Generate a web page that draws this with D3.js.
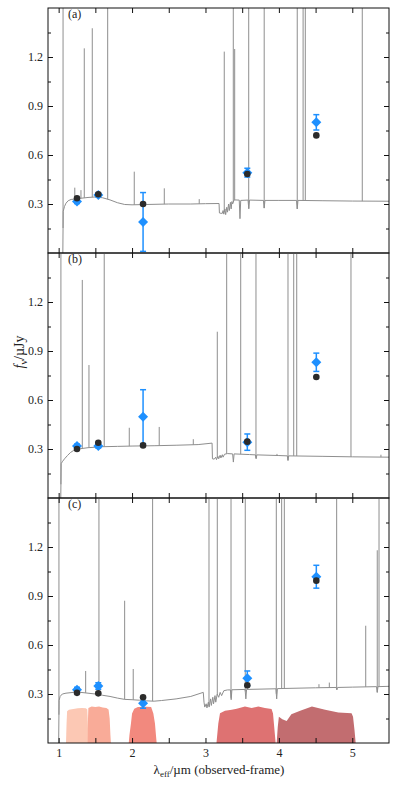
<!DOCTYPE html>
<html><head><meta charset="utf-8">
<script src="https://cdn.jsdelivr.net/npm/d3@7"></script>
<style>body{margin:0;background:#fff} text{font-family:"Liberation Serif","Times New Roman",serif;fill:#222}</style>
</head><body><svg id="c" width="398" height="790"></svg>
<script>
// ---------- data ----------
const panelNames = ["(a)", "(b)", "(c)"];
const bandWave = [1.25, 1.54, 2.15, 3.57, 4.51];

const modelA = [0.335, 0.36, 0.30, 0.484, 0.72];
const obsA   = [0.315, 0.355, 0.19, 0.492, 0.80];
const errA   = [0.012, 0.012, 0.18, 0.027, 0.047];
const modelB = [0.30, 0.338, 0.322, 0.345, 0.741];
const obsB   = [0.318, 0.318, 0.498, 0.342, 0.831];
const errB   = [0.012, 0.012, 0.165, 0.05, 0.056];
const modelC = [0.307, 0.304, 0.28, 0.353, 0.994];
const obsC   = [0.326, 0.349, 0.243, 0.396, 1.018];
const errC   = [0.015, 0.02, 0.03, 0.045, 0.07];

const contA = [[1.057,0.0],[1.062,0.255],[1.08,0.285],[1.10,0.305],[1.13,0.32],[1.17,0.328],[1.22,0.33],[1.3,0.335],[1.4,0.34],[1.5,0.343],[1.6,0.338],[1.7,0.325],[1.8,0.308],[1.9,0.297],[2.0,0.295],[2.2,0.297],[2.5,0.300],[2.8,0.300],[3.0,0.302],[3.185,0.303],[3.19,0.245],[3.21,0.243],[3.23,0.243],[3.24,0.26],[3.25,0.238],[3.265,0.27],[3.275,0.235],[3.29,0.28],[3.30,0.25],[3.315,0.30],[3.325,0.26],[3.34,0.31],[3.35,0.27],[3.36,0.315],[3.37,0.3],[3.39,0.325],[3.46,0.324],[3.47,0.21],[3.48,0.322],[3.58,0.324],[3.59,0.27],[3.60,0.324],[3.79,0.322],[3.80,0.275],[3.81,0.322],[4.0,0.322],[4.24,0.322],[4.25,0.27],[4.26,0.322],[4.6,0.32],[5.0,0.318],[5.5,0.317]];
const contB = [[1.029,0.0],[1.034,0.21],[1.05,0.222],[1.08,0.24],[1.12,0.26],[1.16,0.278],[1.2,0.29],[1.3,0.302],[1.4,0.308],[1.6,0.314],[1.8,0.316],[2.0,0.318],[2.3,0.32],[2.6,0.323],[2.9,0.327],[3.09,0.336],[3.095,0.24],[3.12,0.238],[3.14,0.25],[3.15,0.235],[3.17,0.255],[3.18,0.24],[3.2,0.262],[3.21,0.245],[3.23,0.265],[3.24,0.25],[3.26,0.268],[3.30,0.272],[3.37,0.27],[3.38,0.22],[3.39,0.27],[3.6,0.266],[3.68,0.264],[3.69,0.24],[3.70,0.264],[4.0,0.26],[4.115,0.258],[4.124,0.23],[4.133,0.258],[4.6,0.255],[5.0,0.252],[5.5,0.25]];
const contC = [[1.0,0.0],[1.006,0.26],[1.02,0.285],[1.05,0.30],[1.1,0.305],[1.2,0.31],[1.3,0.31],[1.4,0.305],[1.5,0.30],[1.6,0.292],[1.7,0.285],[1.8,0.275],[1.9,0.267],[2.0,0.265],[2.1,0.262],[2.2,0.258],[2.3,0.256],[2.4,0.26],[2.6,0.27],[2.8,0.285],[2.97,0.31],[2.98,0.25],[2.99,0.22],[3.01,0.24],[3.02,0.215],[3.04,0.25],[3.05,0.22],[3.07,0.27],[3.08,0.23],[3.10,0.28],[3.11,0.24],[3.13,0.29],[3.14,0.25],[3.16,0.30],[3.18,0.28],[3.2,0.31],[3.22,0.29],[3.25,0.32],[3.3,0.325],[3.34,0.325],[3.35,0.265],[3.36,0.326],[3.54,0.328],[3.55,0.27],[3.56,0.328],[3.96,0.332],[3.97,0.27],[3.98,0.333],[4.5,0.338],[4.78,0.34],[4.79,0.325],[4.80,0.34],[5.0,0.342],[5.33,0.345],[5.34,0.31],[5.35,0.345],[5.5,0.347]];

// emission lines: [wavelength, peak flux]
const linesA = [[1.06,2],[1.22,0.40],[1.304,0.385],[1.349,1.253],[1.458,1.376],[1.668,2],[2.03,0.498],[2.439,0.396],[2.915,0.33],[3.256,1.233],[3.379,2],[3.398,1.249],[3.589,2],[3.80,2],[4.25,2],[4.33,2],[4.36,2],[5.136,2]];
const linesB = [[1.031,2],[1.322,1.335],[1.413,0.814],[1.621,2],[1.962,0.43],[2.37,0.435],[2.834,0.36],[3.161,1.018],[3.289,2],[3.48,2],[3.688,2],[3.974,0.27],[4.124,2],[4.202,2],[4.243,2],[4.982,2],[5.39,0.265]];
const linesC = [[1.004,2],[1.368,0.441],[1.549,2],[1.899,0.871],[2.016,0.453],[2.28,2],[3.048,2],[3.161,2],[3.348,2],[3.542,2],[3.965,2],[4.038,2],[4.074,2],[4.546,0.36],[4.687,0.37],[4.787,2],[5.183,0.718],[5.34,1.18],[5.364,2]];

// filter transmission curves (panel c)
const filtJ  = [[1.10,0],[1.108,0.12],[1.115,0.195],[1.14,0.203],[1.2,0.208],[1.26,0.212],[1.32,0.214],[1.37,0.212],[1.39,0.205],[1.398,0.12],[1.405,0]];
const filtH  = [[1.395,0],[1.40,0.15],[1.405,0.215],[1.45,0.224],[1.5,0.22],[1.55,0.223],[1.6,0.218],[1.65,0.215],[1.68,0.205],[1.695,0.15],[1.705,0.05],[1.712,0]];
const filtK  = [[1.955,0],[1.965,0.05],[1.985,0.12],[2.0,0.18],[2.03,0.21],[2.08,0.22],[2.2,0.222],[2.26,0.22],[2.29,0.18],[2.312,0.12],[2.325,0.05],[2.335,0]];
const filtI1 = [[3.15,0],[3.175,0.12],[3.198,0.182],[3.266,0.198],[3.357,0.204],[3.425,0.21],[3.538,0.224],[3.629,0.214],[3.72,0.224],[3.81,0.214],[3.90,0.208],[3.92,0.18],[3.94,0.08],[3.956,0]];
const filtI2 = [[3.97,0],[3.985,0.1],[4.0,0.16],[4.047,0.145],[4.106,0.135],[4.17,0.176],[4.29,0.198],[4.45,0.224],[4.63,0.204],[4.81,0.186],[4.99,0.182],[5.01,0.16],[5.03,0.08],[5.046,0]];
const filterColors = ["#fcc8b4", "#f9ab98", "#f2897e", "#de7272", "#c26d70"];

const xDomain = [0.855, 5.5];
const yDomain = [0, 1.5];
const xTicks = [1, 1.5, 2, 2.5, 3, 3.5, 4, 4.5, 5];
const xTickLabels = ["1", "2", "3", "4", "5"];
const yMajor = [0.3, 0.6, 0.9, 1.2];
const yMinor = [0.15, 0.45, 0.75, 1.05, 1.35];

// ---------- drawing ----------
const svg = d3.select("#c");
const L = 48, R = 389, T0 = 8, PH = 245;
const x = d3.scaleLinear().domain(xDomain).range([L, R]);

const panels = [
  {cont: contA, lines: linesA, model: modelA, obs: obsA, err: errA},
  {cont: contB, lines: linesB, model: modelB, obs: obsB, err: errB},
  {cont: contC, lines: linesC, model: modelC, obs: obsC, err: errC, filters: [filtJ, filtH, filtK, filtI1, filtI2]}
];

const defs = svg.append("defs");
const bis = d3.bisector(d => d[0]).left;
function baseAt(cont, w) {
  const i = bis(cont, w);
  if (i <= 0) return cont[0][1];
  if (i >= cont.length) return cont[cont.length - 1][1];
  const a = cont[i - 1], b = cont[i];
  return a[1] + (b[1] - a[1]) * (w - a[0]) / (b[0] - a[0]);
}

panels.forEach((p, k) => {
  const top = T0 + k * PH, bot = top + PH;
  const y = d3.scaleLinear().domain(yDomain).range([bot, top]);
  const g = svg.append("g");
  defs.append("clipPath").attr("id", "clip" + k).append("rect")
    .attr("x", L).attr("y", top).attr("width", R - L).attr("height", PH);
  const pg = g.append("g").attr("clip-path", `url(#clip${k})`);

  if (p.filters) {
    const area = d3.area().x(d => x(d[0])).y0(y(0)).y1(d => y(d[1]));
    p.filters.forEach((f, j) => {
      pg.append("path").attr("d", area(f)).attr("fill", filterColors[j]);
    });
  }

  const line = d3.line().x(d => x(d[0])).y(d => y(d[1]));
  pg.append("path").attr("d", line(p.cont)).attr("fill", "none")
    .attr("stroke", "#8e8e8e").attr("stroke-width", 1);
  pg.selectAll("line.em").data(p.lines).join("line").attr("class", "em")
    .attr("x1", d => x(d[0])).attr("x2", d => x(d[0]))
    .attr("y1", d => y(baseAt(p.cont, d[0]))).attr("y2", d => y(d[1]))
    .attr("stroke", "#8e8e8e").attr("stroke-width", 1);

  // observed with error bars
  const blue = "#1e90ff";
  bandWave.forEach((w, i) => {
    const cx = x(w), v = p.obs[i], e = p.err[i];
    pg.append("line").attr("x1", cx).attr("x2", cx).attr("y1", y(v - e)).attr("y2", y(v + e))
      .attr("stroke", blue).attr("stroke-width", 1.5);
    [v - e, v + e].forEach(c => pg.append("line").attr("x1", cx - 3).attr("x2", cx + 3)
      .attr("y1", y(c)).attr("y2", y(c)).attr("stroke", blue).attr("stroke-width", 1.5));
    const cy = y(v), s = 5;
    pg.append("path").attr("d", `M${cx},${cy - s}L${cx + s},${cy}L${cx},${cy + s}L${cx - s},${cy}Z`)
      .attr("fill", blue);
  });
  pg.selectAll("circle.m").data(bandWave).join("circle").attr("class", "m")
    .attr("cx", d => x(d)).attr("cy", (d, i) => y(p.model[i])).attr("r", 3.3)
    .attr("fill", "#2b2b2b");

  // axes
  const ax = (gen, tx, ty) => {
    const a = g.append("g").attr("transform", `translate(${tx},${ty})`).call(gen);
    a.select(".domain").remove();
    a.selectAll("line").attr("stroke", "#111");
    a.selectAll("text").attr("font-size", 12).attr("font-family", '"Liberation Serif",serif').attr("fill", "#222");
    return a;
  };
  ax(d3.axisLeft(y).tickValues(yMajor).tickSize(-5).tickPadding(5).tickFormat(d3.format(".1f")), L, 0);
  ax(d3.axisLeft(y).tickValues(yMinor).tickSize(-3).tickFormat(""), L, 0);
  ax(d3.axisRight(y).tickValues(yMajor).tickSize(-5).tickFormat(""), R, 0);
  ax(d3.axisRight(y).tickValues(yMinor).tickSize(-3).tickFormat(""), R, 0);
  ax(d3.axisTop(x).tickValues(xTicks).tickSize(-5).tickFormat(""), 0, top);
  const bx = ax(d3.axisBottom(x).tickValues(xTicks).tickSize(-5).tickPadding(5)
    .tickFormat(d => (k === 2 && Number.isInteger(d)) ? xTickLabels[d - 1] : ""), 0, bot);

  g.append("rect").attr("x", L).attr("y", top).attr("width", R - L).attr("height", PH)
    .attr("fill", "none").attr("stroke", "#111").attr("stroke-width", 1);
  g.append("text").attr("x", 68).attr("y", top + 10).attr("font-size", 12).text(panelNames[k]);
});

// axis titles
const yl = svg.append("text").attr("transform", "translate(24,352) rotate(-90)")
  .attr("text-anchor", "middle").attr("font-size", 14);
yl.append("tspan").attr("font-style", "italic").text("f");
yl.append("tspan").attr("font-size", 10).attr("dy", 3).text("ν");
yl.append("tspan").attr("dy", -3).text("/µJy");

const xl = svg.append("text").attr("x", 219).attr("y", 774).attr("text-anchor", "middle").attr("font-size", 13);
xl.append("tspan").text("λ");
xl.append("tspan").attr("font-size", 9).attr("dy", 3).text("eff");
xl.append("tspan").attr("dy", -3).text("/µm (observed-frame)");
</script></body></html>
